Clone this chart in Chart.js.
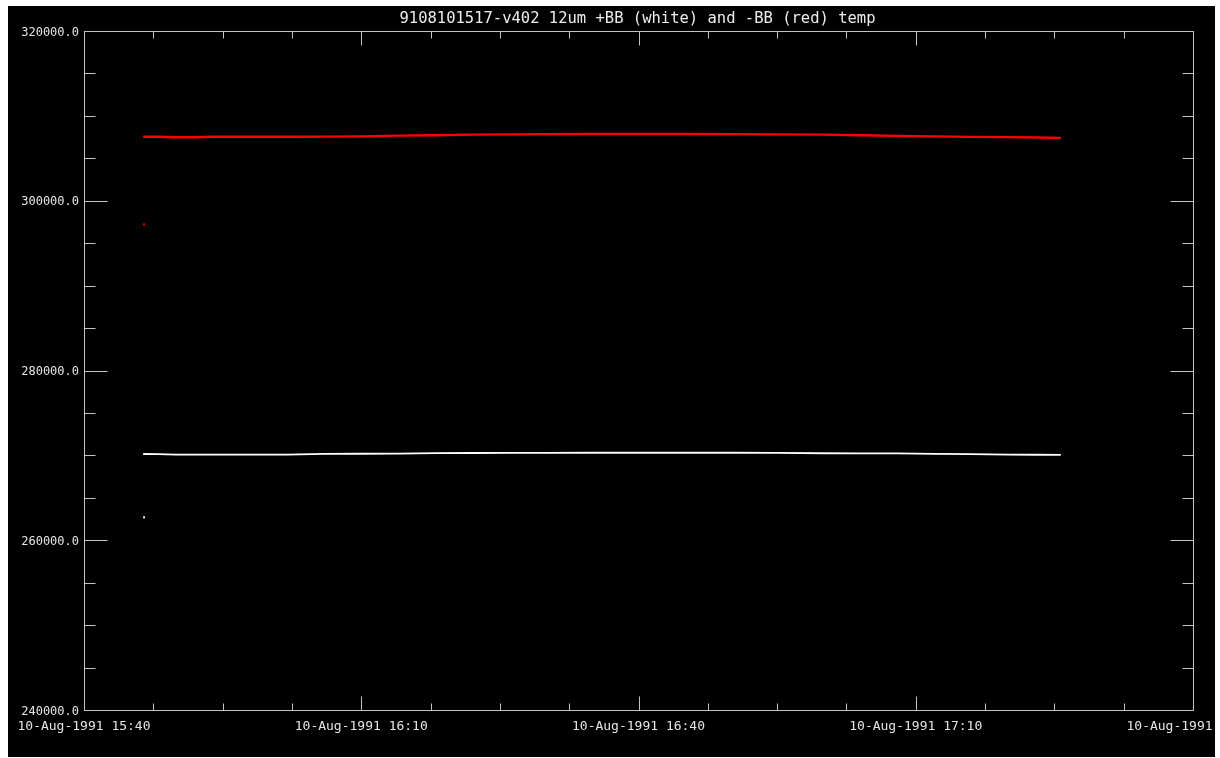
<!DOCTYPE html>
<html>
<head>
<meta charset="utf-8">
<script src="https://cdn.jsdelivr.net/npm/chart.js@4.4.1/dist/chart.umd.min.js"></script>
<style>
  html, body { margin: 0; padding: 0; background: #ffffff; width: 1220px; height: 758px; overflow: hidden; }
  #frame { position: absolute; left: 8px; top: 6px; width: 1207px; height: 751px; background: #000000; }
  #c { display: block; }
</style>
</head>
<body>
<div id="frame"><canvas id="c" width="1207" height="751"></canvas></div>
<script>
// ---- data (time in minutes after 10-Aug-1991 15:40) ----
const minutesAfter1540 = [6.4, 8, 10, 12, 14, 18, 22, 26, 30, 34, 38, 42, 46, 50, 55, 60, 65, 70, 75, 80, 84, 88, 92, 96, 100, 103, 105.7];
const bbPlusTemp  = [270160, 270150, 270090, 270080, 270080, 270080, 270090, 270180, 270190, 270200, 270270, 270280, 270290, 270300, 270310, 270310, 270310, 270310, 270300, 270250, 270240, 270230, 270170, 270150, 270080, 270075, 270070];
const bbMinusTemp = [307540, 307540, 307480, 307480, 307540, 307540, 307540, 307560, 307590, 307680, 307720, 307780, 307830, 307850, 307890, 307890, 307890, 307860, 307830, 307780, 307720, 307640, 307580, 307520, 307490, 307450, 307410];
const outlierMinutes = [6.5];
const bbPlusOutlier  = [262700];
const bbMinusOutlier = [297220];

// ---- axes ----
const xMin = 0, xMax = 120;
const xMajorTicks = [0, 30, 60, 90, 120];
const xTickLabels = ['10-Aug-1991 15:40', '10-Aug-1991 16:10', '10-Aug-1991 16:40', '10-Aug-1991 17:10', '10-Aug-1991 17:40'];
const xMinorStep = 7.5;
const yMin = 240000, yMax = 320000;
const yMajorTicks = [240000, 260000, 280000, 300000, 320000];
const yTickLabels = ['240000.0', '260000.0', '280000.0', '300000.0', '320000.0'];
const yMinorStep = 5000;
const chartTitle = '9108101517-v402 12um +BB (white) and -BB (red) temp';

const toXY = (xs, ys) => xs.map((x, i) => ({ x: x, y: ys[i] }));

const axisPlugin = {
  id: 'idlAxes',
  afterDraw(chart) {
    const ctx = chart.ctx;
    const a = chart.chartArea;
    const xs = chart.scales.x, ys = chart.scales.y;
    const L = Math.round(a.left) + 0.5, R = Math.round(a.right) + 0.5;
    const T = Math.round(a.top) + 0.5, B = Math.round(a.bottom) + 0.5;
    ctx.save();
    ctx.strokeStyle = '#c4c4c4';
    ctx.lineWidth = 1;
    ctx.beginPath();
    ctx.moveTo(L, T); ctx.lineTo(R, T); ctx.lineTo(R, B); ctx.lineTo(L, B); ctx.closePath();
    // x ticks
    for (let v = xMin; v <= xMax + 1e-9; v += xMinorStep) {
      const px = Math.round(xs.getPixelForValue(v)) + 0.5;
      const major = xMajorTicks.includes(v);
      const len = major ? 14 : 7;
      ctx.moveTo(px, B); ctx.lineTo(px, B - len);
      ctx.moveTo(px, T); ctx.lineTo(px, T + len);
    }
    // y ticks
    for (let v = yMin; v <= yMax + 1e-9; v += yMinorStep) {
      const py = Math.round(ys.getPixelForValue(v)) + 0.5;
      const major = yMajorTicks.includes(v);
      const len = major ? 23 : 11;
      ctx.moveTo(L, py); ctx.lineTo(L + len, py);
      ctx.moveTo(R, py); ctx.lineTo(R - len, py);
    }
    ctx.stroke();

    ctx.fillStyle = '#e4e4e4';
    // x labels
    ctx.font = '13px "DejaVu Sans Mono", "Liberation Mono", monospace';
    ctx.textAlign = 'center';
    ctx.textBaseline = 'middle';
    xMajorTicks.forEach((v, i) => {
      ctx.fillText(xTickLabels[i], xs.getPixelForValue(v), B + 16);
    });
    // y labels
    ctx.font = '12px "DejaVu Sans Mono", "Liberation Mono", monospace';
    ctx.textAlign = 'right';
    yMajorTicks.forEach((v, i) => {
      ctx.fillText(yTickLabels[i], L - 5.5, ys.getPixelForValue(v) + 1.5);
    });
    // title
    ctx.font = '15.5px "DejaVu Sans Mono", "Liberation Mono", monospace';
    ctx.textAlign = 'center';
    ctx.fillStyle = '#ececec';
    ctx.fillText(chartTitle, (a.left + a.right) / 2 - 1, a.top - 12.5);
    ctx.restore();
  }
};

new Chart(document.getElementById('c'), {
  type: 'line',
  data: {
    datasets: [
      { label: '+BB', data: toXY(minutesAfter1540, bbPlusTemp), borderColor: '#ffffff', borderWidth: 1.8, pointRadius: 0, tension: 0, fill: false },
      { label: '-BB', data: toXY(minutesAfter1540, bbMinusTemp), borderColor: '#ff0000', borderWidth: 2.3, pointRadius: 0, tension: 0, fill: false },
      { label: '+BB first sample', data: toXY(outlierMinutes, bbPlusOutlier), showLine: false, pointStyle: 'rect', pointRadius: 1.4, backgroundColor: '#ffffff', borderWidth: 0 },
      { label: '-BB first sample', data: toXY(outlierMinutes, bbMinusOutlier), showLine: false, pointStyle: 'rect', pointRadius: 1.4, backgroundColor: '#ff0000', borderWidth: 0 }
    ]
  },
  options: {
    responsive: false,
    animation: false,
    devicePixelRatio: 1,
    layout: { padding: { left: 76, top: 25, right: 22, bottom: 47 } },
    plugins: { legend: { display: false }, title: { display: false }, tooltip: { enabled: false } },
    scales: {
      x: { type: 'linear', min: xMin, max: xMax, display: false },
      y: { type: 'linear', min: yMin, max: yMax, display: false }
    }
  },
  plugins: [axisPlugin]
});
</script>
</body>
</html>
